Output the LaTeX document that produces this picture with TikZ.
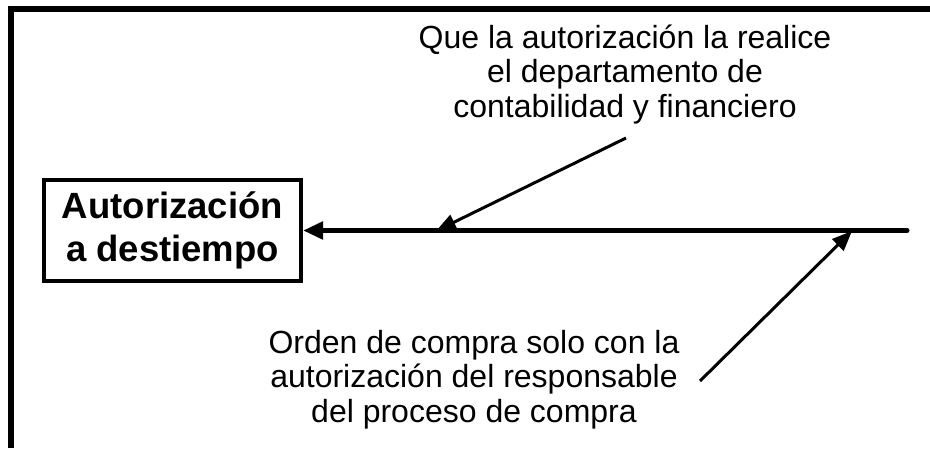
\documentclass[tikz,border=0pt]{standalone}
\usepackage{fontspec}
\setmainfont{Liberation Sans}
\usetikzlibrary{arrows.meta}
\begin{document}
\begin{tikzpicture}[x=1pt,y=-1pt,
  frameline/.style={line width=6pt,line join=miter},
  effectbox/.style={draw,line width=4pt,minimum width=257pt,minimum height=101pt,inner sep=0pt,
    align=center,font=\fontsize{36.5}{43}\selectfont\bfseries},
  causetext/.style={align=center,inner sep=0pt,anchor=base,font=\fontsize{32}{34.5}\selectfont},
  spine/.style={line width=5pt,line cap=round,-{Triangle[length=20pt,width=17pt]}},
  bone/.style={line width=3pt,-{Triangle[length=20pt,width=16pt]}}]
\useasboundingbox (0,0) rectangle (930,448);
\draw[frameline] (11,448) -- (11,9) -- (930,9);
\node[effectbox] (effect) at (172.5,230.5) {Autorización\\a destiempo};
\coordinate (spineend) at (907,230.5);
\draw[spine] (spineend) -- (effect.east);
\node[causetext] (cause1) at (625,117) {Que la autorización la realice\\el departamento de\\contabilidad y financiero};
\node[causetext] (cause2) at (474,422) {Orden de compra solo con la\\autorización del responsable\\del proceso de compra};
\coordinate (c1start) at (626,138);
\coordinate (c1tip) at (436,231);
\coordinate (c2start) at (700,381);
\coordinate (c2tip) at (852,231);
\draw[bone] (c1start) -- (c1tip);
\draw[bone] (c2start) -- (c2tip);
\end{tikzpicture}
\end{document}
